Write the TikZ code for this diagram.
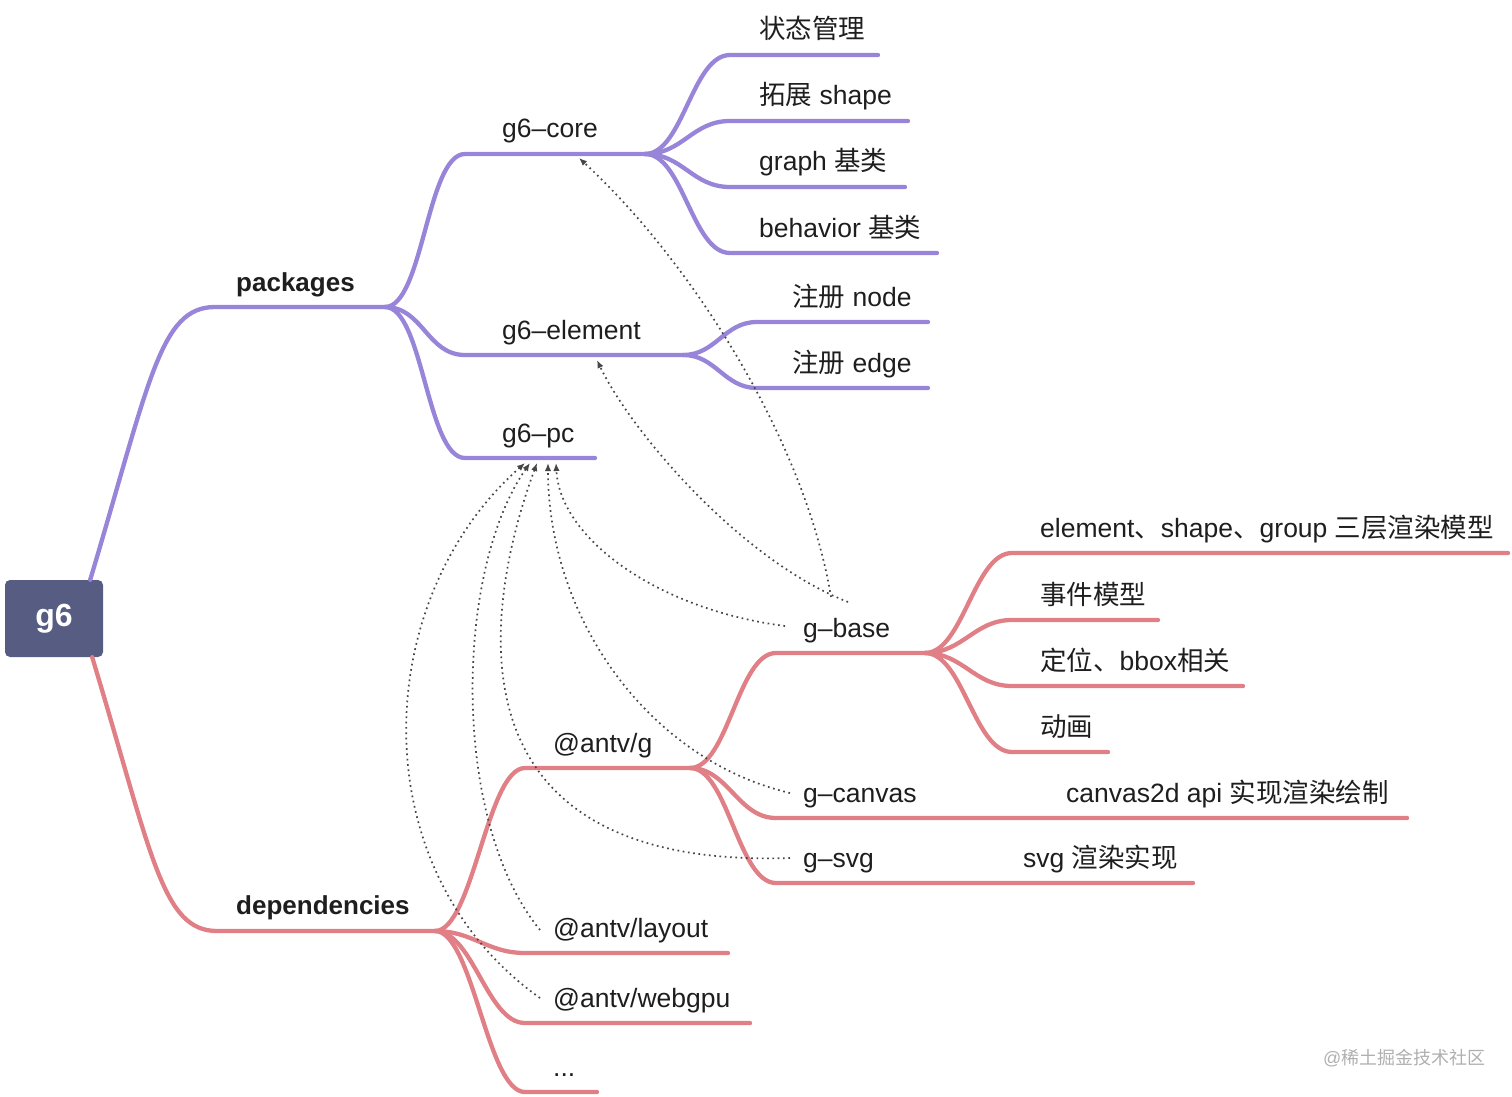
\documentclass[tikz,border=0pt]{standalone}
\usepackage{fontspec}
\setmainfont{Liberation Sans}
\newfontfamily\cjk{Noto Sans CJK SC}
\newcommand\zh[1]{{\cjk #1}}
\usetikzlibrary{arrows.meta}

\definecolor{mauve}{RGB}{152,133,218}
\definecolor{corail}{RGB}{224,128,134}
\definecolor{ardoise}{RGB}{86,92,130}
\definecolor{encre}{RGB}{30,30,30}
\definecolor{trait}{RGB}{70,70,70}
\definecolor{filigrane}{RGB}{175,175,175}

\begin{document}
\begin{tikzpicture}[x=1pt,y=-1pt,
  branche/.style={line width=4.3pt,line cap=round},
  texte/.style={anchor=base west,inner sep=0pt,text=encre,font=\fontsize{26.5}{30}\selectfont},
  gras/.style={texte,font=\bfseries\fontsize{26}{30}\selectfont},
  lien/.style={trait,line width=1.7pt,dash pattern=on 1.7pt off 3.6pt,-{Latex[length=8pt,width=6.5pt]}}]

  \useasboundingbox (0,0) rectangle (1512,1097);

% Racine
  \node[fill=ardoise,rounded corners=5pt,minimum width=98pt,minimum height=77pt,text=white,
        font=\bfseries\fontsize{32}{36}\selectfont] (g6) at (54,618.5) {\raisebox{-2pt}{g6}};

% packages
  \coordinate (pkg) at (385,307);
  \draw[branche,mauve] ([xshift=-13pt]g6.north east) .. controls (150,380) and (160,307) .. (215,307) -- (pkg);
  \node[gras] (pkg-l) at (236,291) {packages};

  \foreach \n/\y/\e/\t in {core/154/645/g6–core, elem/355/683/g6–element, pc/458/595/g6–pc}{
    \coordinate (\n) at (\e,\y);
    \draw[branche,mauve] (pkg) .. controls +(38,0) and +(-38,0) .. (465,\y) -- (\n);
    \node[texte] (\n-l) at (502,\y-16) {\t};
  }

  \foreach \n/\y/\e/\t in {etat/55/878/{\zh{状态管理}}, ext/121/908/{\zh{拓展} shape},
                           graphe/187/905/{graph \zh{基类}}, comp/253/937/{behavior \zh{基类}}}{
    \coordinate (\n) at (\e,\y);
    \draw[branche,mauve] (core) .. controls +(38,0) and +(-38,0) .. (730,\y) -- (\n);
    \node[texte] (\n-l) at (759,\y-16) {\t};
  }

  \foreach \n/\y/\t in {noeud/322/{\zh{注册} node}, arete/388/{\zh{注册} edge}}{
    \coordinate (\n) at (928,\y);
    \draw[branche,mauve] (elem) .. controls +(33,0) and +(-33,0) .. (757,\y) -- (\n);
    \node[texte] (\n-l) at (792,\y-16) {\t};
  }

% dependencies
  \coordinate (dep) at (435,931);
  \draw[branche,corail] ([xshift=-11pt]g6.south east) .. controls (152,855) and (162,931) .. (217,931) -- (dep);
  \node[gras] (dep-l) at (236,914) {dependencies};

  \foreach \n/\y/\e/\t in {antvg/768/690/{@antv/g}, layout/953/728/{@antv/layout},
                           webgpu/1023/750/{@antv/webgpu}, etc/1092/597/{...}}{
    \coordinate (\n) at (\e,\y);
    \draw[branche,corail] (dep) .. controls +(38,0) and +(-38,0) .. (525,\y) -- (\n);
    \node[texte] (\n-l) at (553,\y-16) {\t};
  }

  \foreach \n/\y/\e/\t in {gbase/653/925/g–base, gcanvas/818/1407/g–canvas, gsvg/883/1193/g–svg}{
    \coordinate (\n) at (\e,\y);
    \draw[branche,corail] (antvg) .. controls +(38,0) and +(-38,0) .. (776,\y) -- (\n);
    \node[texte] (\n-l) at (803,\y-16) {\t};
  }
  \node[texte] (canvas-note) at (1066,802) {canvas2d api \zh{实现渲染绘制}};
  \node[texte] (svg-note) at (1023,867) {svg \zh{渲染实现}};

  \foreach \n/\y/\e/\t in {modele/553/1508/{element\zh{、}shape\zh{、}group \zh{三层渲染模型}},
                           evt/620/1158/{\zh{事件模型}}, pos/686/1243/{\zh{定位、}bbox\zh{相关}},
                           anim/752/1108/{\zh{动画}}}{
    \coordinate (\n) at (\e,\y);
    \draw[branche,corail] (gbase) .. controls +(38,0) and +(-38,0) .. (1012,\y) -- (\n);
    \node[texte] (\n-l) at (1040,\y-16) {\t};
  }

% Liens pointilles
  \coordinate (core-in) at (579,158);
  \coordinate (elem-in) at (597,360);
  \coordinate (gbase-a) at (831,597);
  \coordinate (gbase-b) at (848,602);
  \coordinate (gbase-c) at (785,626);
  \coordinate (gcanvas-a) at (790,793);
  \coordinate (gsvg-a) at (790,858);
  \coordinate (layout-a) at (540,930);
  \coordinate (webgpu-a) at (540,998);
  \draw[lien] (gbase-a) .. controls (805,440) and (690,260) .. (core-in);
  \draw[lien] (gbase-b) .. controls (740,560) and (630,430) .. (elem-in);
  \draw[lien] (gbase-c) .. controls (660,610) and (560,540) .. (556,463);
  \draw[lien] (gcanvas-a) .. controls (650,760) and (548,620) .. (548,463);
  \draw[lien] (gsvg-a) .. controls (430,870) and (490,590) .. (537,463);
  \draw[lien] (layout-a) .. controls (450,820) and (455,570) .. (530,463);
  \draw[lien] (webgpu-a) .. controls (360,870) and (370,600) .. (525,463);

  \node[anchor=base west,inner sep=0pt,text=filigrane,font=\fontsize{18}{22}\selectfont] (marque) at (1323,1064) {@\zh{稀土掘金技术社区}};

\end{tikzpicture}
\end{document}
